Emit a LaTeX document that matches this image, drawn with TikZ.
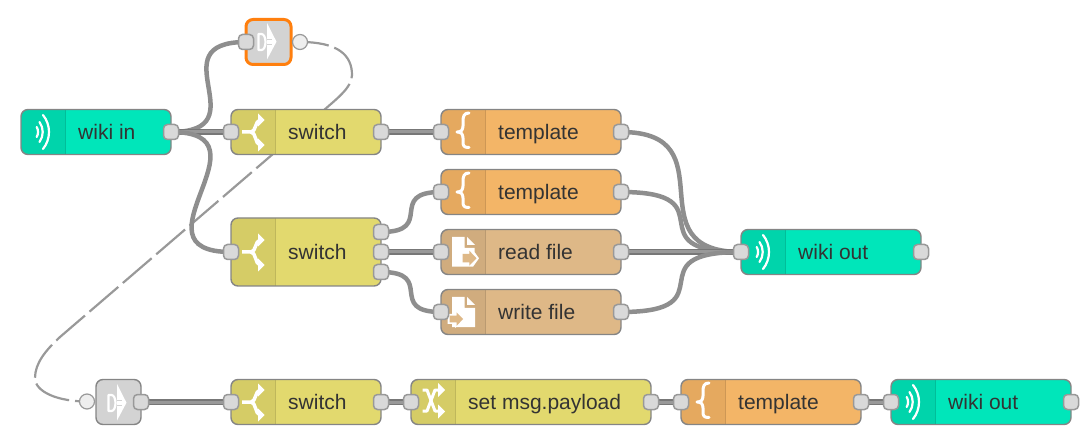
\documentclass[tikz,border=0pt]{standalone}
\usepackage{fontspec}
\setmainfont{Liberation Sans}
\definecolor{nrteal}{HTML}{00E6BA}\definecolor{nrtealD}{HTML}{00D4AB}
\definecolor{nryel}{HTML}{E2D96E}\definecolor{nryelD}{HTML}{D5CC66}
\definecolor{nrora}{HTML}{F3B567}\definecolor{nroraD}{HTML}{E5A95F}
\definecolor{nrtan}{HTML}{DEB887}\definecolor{nrtanD}{HTML}{D0AC7E}
\definecolor{nrgry}{HTML}{D3D3D3}
\definecolor{nrtxt}{HTML}{333333}
\definecolor{nrline}{HTML}{858585}
\definecolor{nrsel}{HTML}{FF7F0E}
\definecolor{nrport}{HTML}{D9D9D9}\definecolor{nrportl}{HTML}{999999}
\definecolor{nrdisc}{HTML}{EEEEEE}
\definecolor{nrwire}{HTML}{777777}\definecolor{nrwirec}{HTML}{999999}\definecolor{nrcurve}{HTML}{8E8E8E}
\pgfdeclarelayer{wires}
\pgfsetlayers{wires,main}
\tikzset{
  boxbase/.style={shape=rectangle,rounded corners=7pt,inner sep=0pt,outer sep=0pt},
  boxline/.style={draw=nrline,line width=1.4pt,rounded corners=7pt},
  portbox/.style={shape=rectangle,rounded corners=4pt,draw=nrportl,line width=1.5pt,fill=nrport,minimum width=15pt,minimum height=15pt,inner sep=0pt,outer sep=0pt},
  portdisc/.style={shape=circle,draw=nrportl,line width=1.2pt,fill=nrdisc,minimum size=15pt,inner sep=0pt,outer sep=0pt},
  wire/.style={draw=nrcurve,line width=4.5pt},
  wirestraight/.style={draw=nrwire,line width=1.2pt,double=nrwirec,double distance=3pt},
  linkwire/.style={draw=nrwirec,line width=2.2pt,dash pattern=on 38pt off 6pt,dash phase=9pt},
  lbl/.style={text=nrtxt,font=\fontsize{21}{25}\selectfont,inner sep=0pt,anchor=base west},
  ico/.style={draw=white,line width=3.5pt,fill=none,line join=round},
  icoarc/.style={draw=white,line width=2.2pt,fill=none,line cap=round},
}
\newcommand{\flownode}[9]{%
  \node[boxbase,fill=#6,minimum width=#4pt,minimum height=#5pt] (#1) at (#2+#4/2,#3) {};
  \begin{scope}
    \clip[rounded corners=7pt] (#1.north west) rectangle (#1.south east);
    \fill[#7] (#2,#3-#5/2) rectangle (#2+44.5,#3+#5/2);
    \draw[black,opacity=.1,line width=1pt] (#2+44.5,#3-#5/2) -- (#2+44.5,#3+#5/2);
  \end{scope}
  \draw[boxline] (#1.north west) rectangle (#1.south east);
  \node[lbl] (#1t) at (#8,#3+7.5) {#9};
}
\newcommand{\plainnode}[6]{%
  \node[boxbase,fill=nrgry,minimum width=#4pt,minimum height=#5pt] (#1) at (#2+#4/2,#3) {};
  \draw[boxline,#6] (#1.north west) rectangle (#1.south east);
}
\newcommand{\icowave}[2]{\begin{scope}[shift={(#1,#2)}]
  \draw[icoarc] (-6.3,-5) .. controls (-4.5,-2) and (-4.5,2) .. (-6.3,5);
  \draw[icoarc] (-3.5,-10) .. controls (0.8,-4) and (0.8,4) .. (-3.5,10);
  \draw[icoarc] (0,-17) .. controls (8,-7) and (8,7) .. (0,17);
\end{scope}}
\newcommand{\icoswitch}[2]{\begin{scope}[shift={(#1,#2)}]
  \draw[ico] (-11,0) -- (-2,0) .. controls (3,0) and (2,-11) .. (7,-12);
  \draw[ico] (-2,0) .. controls (3,0) and (2,12) .. (7,13);
  \fill[white] (5,-18.5) -- (11.5,-12) -- (5,-5.5) -- cycle;
  \fill[white] (5,6.5) -- (11.5,13) -- (5,19.5) -- cycle;
\end{scope}}
\newcommand{\icobrace}[2]{\begin{scope}[shift={(#1,#2)}]
  \draw[ico,line width=3pt,line cap=round] (6,-19) .. controls (1,-19) and (0,-16) .. (0,-10) -- (0,-6) .. controls (0,-2) and (-2,0) .. (-6,0) .. controls (-2,0) and (0,2) .. (0,6) -- (0,10) .. controls (0,14) and (1,15.5) .. (6,15.5);
\end{scope}}
\newcommand{\icoread}[2]{\begin{scope}[shift={(#1,#2)}]
  \fill[white] (-11,-15) -- (1.5,-15) -- (1.5,-4) -- (11.5,-4) -- (11.5,0) -- (16,6.3) -- (10,14.7) -- (-11,14.7) -- cycle;
  \fill[white] (4,-15) -- (12,-7) -- (4,-7) -- cycle;
  \fill[nrtan] (-0.3,2) -- (6.3,2) -- (6.3,-1.3) -- (13.5,6.3) -- (6.3,13.7) -- (6.3,10.3) -- (-0.3,10.3) -- cycle;
\end{scope}}
\newcommand{\icowrite}[2]{\begin{scope}[shift={(#1,#2)}]
  \fill[white] (-11,-15) -- (1.5,-15) -- (1.5,-4) -- (12,-4) -- (12,15) -- (-11,15) -- cycle;
  \fill[white] (4,-15) -- (12,-7) -- (4,-7) -- cycle;
  \fill[white] (-15.5,2) -- (-8,2) -- (-8,-2.5) -- (2,7) -- (-8,16) -- (-8,12) -- (-15.5,12) -- cycle;
  \fill[nrtan] (-13.5,3.7) -- (-6.5,3.7) -- (-6.5,0.5) -- (0,7) -- (-6.5,14) -- (-6.5,10.3) -- (-13.5,10.3) -- cycle;
\end{scope}}
\newcommand{\icoshuffle}[2]{\begin{scope}[shift={(#1,#2)}]
  \draw[ico,line width=3pt] (-10.5,-12) -- (-6,-12) -- (2,9) -- (7,9);
  \draw[ico,line width=3pt] (-10.5,9) -- (-6,9) -- (2,-12) -- (7,-12);
  \fill[white] (5,-19) -- (12,-12) -- (5,-5) -- cycle;
  \fill[white] (5,2.5) -- (12,9.5) -- (5,16.5) -- cycle;
\end{scope}}
\newcommand{\icolink}[2]{\begin{scope}[shift={(#1,#2)}]
  \fill[white] (-1.5,-18) -- (8,0.7) -- (-1.5,18.5) -- cycle;
  \draw[nrgry,line width=1.2pt] (-1.5,-1.5) -- (3,-1.5);
  \draw[nrgry,line width=1.2pt] (-1.5,3.5) -- (3,3.5);
  \draw[white,line width=2.2pt,line join=round] (-10,-7) -- (-7,-7) .. controls (-4.5,-7) and (-3,-3) .. (-3,1) .. controls (-3,5) and (-4.5,9) .. (-7,9) -- (-10,9) -- cycle;
\end{scope}}
\begin{document}
\begin{tikzpicture}[x=1pt,y=-1pt]
\useasboundingbox (0,0) rectangle (1086,443);
% nodes
\flownode{wikiin}{21}{132}{150}{45}{nrteal}{nrtealD}{78}{wiki in}
\flownode{sw1}{231}{132}{150}{45}{nryel}{nryelD}{288}{switch}
\flownode{tp1}{441}{132}{180}{45}{nrora}{nroraD}{498}{template}
\flownode{tp2}{441}{192}{180}{45}{nrora}{nroraD}{498}{template}
\flownode{sw2}{231}{252}{150}{68}{nryel}{nryelD}{288}{switch}
\flownode{rf}{441}{252}{180}{45}{nrtan}{nrtanD}{498}{read file}
\flownode{wf}{441}{312}{180}{45}{nrtan}{nrtanD}{498}{write file}
\flownode{wo1}{741}{252}{180}{45}{nrteal}{nrtealD}{798}{wiki out}
\flownode{sw3}{231}{402}{150}{45}{nryel}{nryelD}{288}{switch}
\flownode{set}{411}{402}{240}{45}{nryel}{nryelD}{468}{set msg.payload}
\flownode{tp3}{681}{402}{180}{45}{nrora}{nroraD}{738}{template}
\flownode{wo2}{891}{402}{180}{45}{nrteal}{nrtealD}{948}{wiki out}
\plainnode{lnkout}{246}{42}{45}{45}{draw=nrsel,line width=3pt}
\plainnode{lnkin}{96}{402}{45}{45}{}
% icons
\icowave{43}{132}\icowave{763}{252}\icowave{913}{402}
\icoswitch{253}{132}\icoswitch{253}{252}\icoswitch{253}{402}
\icobrace{463}{132}\icobrace{463}{192}\icobrace{703}{402}
\icoread{463}{252}\icowrite{463}{312}\icoshuffle{433}{402}
\icolink{268.5}{41}\icolink{118.5}{402}
% ports
\foreach \n/\x/\y in {a/246/42,b/231/132,c/381/132,d/441/132,e/621/132,f/441/192,g/621/192,
   h/231/252,i/381/232,j/381/252,k/381/272,l/441/252,m/621/252,n/441/312,o/621/312,p/741/252,
   q/141/402,r/231/402,s/381/402,t/411/402,u/651/402,v/681/402,w/861/402,x/891/402,
   y/171/132,z/921/252,zz/1071/402}
  {\node[portbox] (po\n) at (\x,\y) {};}
\node[portdisc] (dLo) at (300,42) {};
\node[portdisc] (dLi) at (87,401.5) {};
% connectors, on the layer under the nodes
\begin{pgfonlayer}{wires}
\draw[linkwire] (dLo.center) .. controls (338,42) and (352,55) .. (352,75)
  .. controls (352,88) and (335,100) .. (323,111) -- (60,337)
  .. controls (46,350) and (35,363) .. (35,378)
  .. controls (35,392) and (58,401.5) .. (dLi.center);
\draw[wire] (poy.center) .. controls +(90,0) and +(-90,0) .. (poa.center);
\draw[wirestraight] (poy.center) -- (pob.center);
\draw[wire] (poy.center) .. controls +(105,0) and +(-105,0) .. (poh.center);
\draw[wirestraight] (poc.center) -- (pod.center);
\draw[wire] (poi.center) .. controls +(55,0) and +(-55,0) .. (pof.center);
\draw[wirestraight] (poj.center) -- (pol.center);
\draw[wire] (pok.center) .. controls +(55,0) and +(-55,0) .. (pon.center);
\draw[wire] (poe.center) .. controls +(110,0) and +(-110,0) .. (pop.center);
\draw[wire] (pog.center) .. controls +(110,0) and +(-110,0) .. (pop.center);
\draw[wirestraight] (pom.center) -- (pop.center);
\draw[wire] (poo.center) .. controls +(110,0) and +(-110,0) .. (pop.center);
\draw[wirestraight] (poq.center) -- (por.center);
\draw[wirestraight] (pos.center) -- (pot.center);
\draw[wirestraight] (pou.center) -- (pov.center);
\draw[wirestraight] (pow.center) -- (pox.center);
\end{pgfonlayer}
\end{tikzpicture}
\end{document}
